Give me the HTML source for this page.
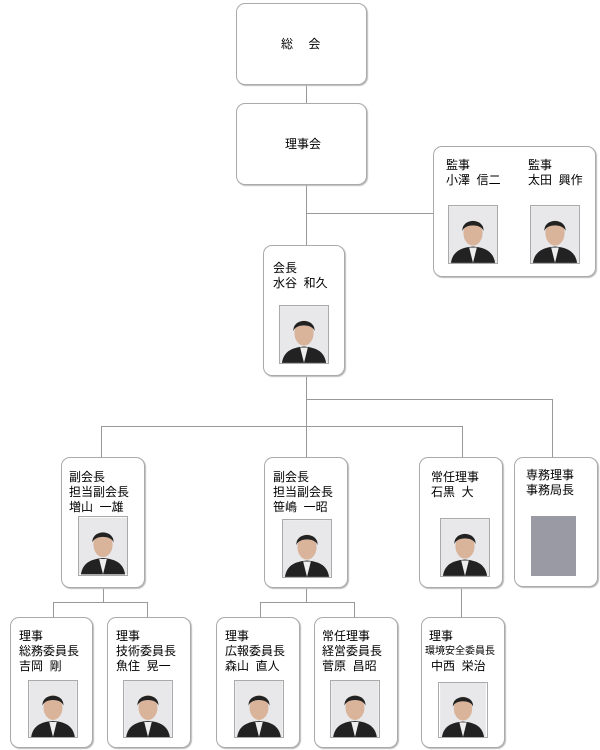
<!DOCTYPE html>
<html><head><meta charset="utf-8"><style>
body{margin:0;width:600px;height:750px;background:#fff;position:relative;overflow:hidden;font-family:"Liberation Sans","Noto Sans CJK JP",sans-serif;color:#000}
.b{position:absolute;box-sizing:border-box;border:1.5px solid #aaa;border-radius:9px;background:#fff;box-shadow:1px 1px 1px #bbb}
.t{position:absolute;font-size:12px;line-height:15px;white-space:nowrap}
.l{position:absolute;background:#999}
.p{position:absolute;border:1px solid #aaa;box-sizing:border-box;overflow:hidden}
</style></head><body>
<svg width="0" height="0" style="position:absolute"><defs>
<symbol id="m" viewBox="0 0 50 59"><rect width="50" height="59" fill="#e8e8ea"/><path d="M2 59 C4 46 14 43 25 42 C36 43 46 46 48 59Z" fill="#222"/><path d="M21 43 L25 59 L29 43Z" fill="#eee"/><ellipse cx="25" cy="28" rx="10" ry="13" fill="#d9b39a"/><path d="M14 26 C13 12 37 12 36 26 C34 18 16 18 14 26Z" fill="#222"/></symbol>
</defs></svg>

<!-- lines -->
<div class="l" style="left:306px;top:84px;width:1px;height:19px"></div>
<div class="l" style="left:306px;top:185px;width:1px;height:60px"></div>
<div class="l" style="left:306px;top:213px;width:127px;height:1px"></div>
<div class="l" style="left:306px;top:375px;width:1px;height:82px"></div>
<div class="l" style="left:306px;top:399px;width:247px;height:1px"></div>
<div class="l" style="left:552px;top:399px;width:1px;height:58px"></div>
<div class="l" style="left:101px;top:426px;width:362px;height:1px"></div>
<div class="l" style="left:101px;top:426px;width:1px;height:31px"></div>
<div class="l" style="left:462px;top:426px;width:1px;height:31px"></div>
<div class="l" style="left:103px;top:587px;width:1px;height:15px"></div>
<div class="l" style="left:53px;top:602px;width:95px;height:1px"></div>
<div class="l" style="left:53px;top:602px;width:1px;height:15px"></div>
<div class="l" style="left:147px;top:602px;width:1px;height:15px"></div>
<div class="l" style="left:306px;top:587px;width:1px;height:15px"></div>
<div class="l" style="left:260px;top:602px;width:95px;height:1px"></div>
<div class="l" style="left:260px;top:602px;width:1px;height:15px"></div>
<div class="l" style="left:354px;top:602px;width:1px;height:15px"></div>
<div class="l" style="left:461px;top:587px;width:1px;height:30px"></div>

<!-- top -->
<div class="b" style="left:236px;top:3px;width:131px;height:82px"></div>
<div class="t" style="left:281px;top:37px">総　&nbsp;会</div>
<div class="b" style="left:236px;top:103px;width:131px;height:82px"></div>
<div class="t" style="left:285px;top:137px">理事会</div>

<div class="b" style="left:433px;top:146px;width:163px;height:131px"></div>
<div class="t" style="left:446px;top:158px">監事<br>小澤 &nbsp;信二</div>
<div class="t" style="left:528px;top:158px">監事<br>太田 &nbsp;興作</div>
<svg class="p" style="left:448px;top:205px" width="50" height="59"><use href="#m"/></svg>
<svg class="p" style="left:530px;top:205px" width="50" height="59"><use href="#m"/></svg>

<div class="b" style="left:263px;top:245px;width:82px;height:131px"></div>
<div class="t" style="left:273px;top:261px">会長<br>水谷 &nbsp;和久</div>
<svg class="p" style="left:279px;top:305px" width="50" height="59"><use href="#m"/></svg>

<!-- row1 -->
<div class="b" style="left:61px;top:457px;width:84px;height:131px"></div>
<div class="t" style="left:69px;top:470px">副会長<br>担当副会長<br>増山 &nbsp;一雄</div>
<svg class="p" style="left:78px;top:516px" width="50" height="60"><use href="#m"/></svg>

<div class="b" style="left:264px;top:457px;width:84px;height:131px"></div>
<div class="t" style="left:273px;top:470px">副会長<br>担当副会長<br>笹嶋 &nbsp;一昭</div>
<svg class="p" style="left:282px;top:519px" width="50" height="59"><use href="#m"/></svg>

<div class="b" style="left:419px;top:457px;width:84px;height:131px"></div>
<div class="t" style="left:431px;top:470px">常任理事<br>石黒 &nbsp;大</div>
<svg class="p" style="left:440px;top:518px" width="50" height="59"><use href="#m"/></svg>

<div class="b" style="left:514px;top:457px;width:84px;height:130px"></div>
<div class="t" style="left:526px;top:468px">専務理事<br>事務局長</div>
<div style="position:absolute;left:531px;top:516px;width:45px;height:60px;background:#9a9aa5"></div>

<!-- row2 -->
<div class="b" style="left:10px;top:617px;width:83px;height:131px"></div>
<div class="t" style="left:19px;top:629px">理事<br>総務委員長<br>吉岡 &nbsp;剛</div>
<svg class="p" style="left:28px;top:680px" width="50" height="58"><use href="#m"/></svg>

<div class="b" style="left:107px;top:617px;width:84px;height:131px"></div>
<div class="t" style="left:116px;top:629px">理事<br>技術委員長<br>魚住 &nbsp;晃一</div>
<svg class="p" style="left:123px;top:680px" width="50" height="58"><use href="#m"/></svg>

<div class="b" style="left:216px;top:617px;width:84px;height:131px"></div>
<div class="t" style="left:225px;top:629px">理事<br>広報委員長<br>森山 &nbsp;直人</div>
<svg class="p" style="left:234px;top:680px" width="50" height="58"><use href="#m"/></svg>

<div class="b" style="left:314px;top:617px;width:84px;height:131px"></div>
<div class="t" style="left:322px;top:629px">常任理事<br>経営委員長<br>菅原 &nbsp;昌昭</div>
<svg class="p" style="left:330px;top:680px" width="50" height="58"><use href="#m"/></svg>

<div class="b" style="left:421px;top:617px;width:84px;height:131px"></div>
<div class="t" style="left:429px;top:629px">理事</div>
<div class="t" style="left:425px;top:644px;font-size:10px">環境安全委員長</div>
<div class="t" style="left:431px;top:659px">中西 &nbsp;栄治</div>
<svg class="p" style="left:438px;top:682px" width="50" height="56"><use href="#m"/></svg>
</body></html>
